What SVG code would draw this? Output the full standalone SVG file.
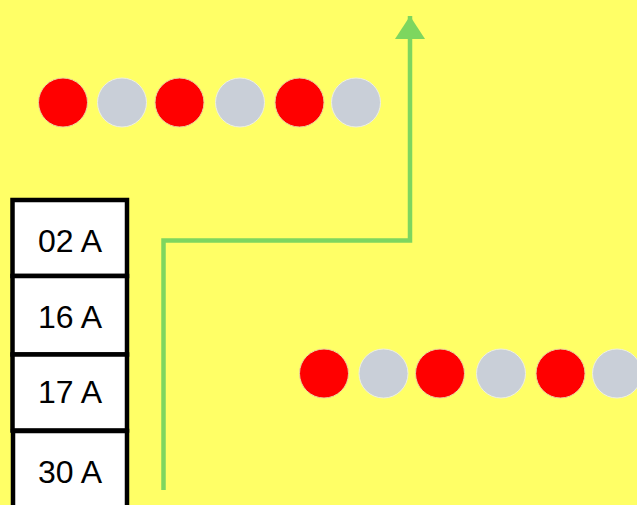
<svg xmlns="http://www.w3.org/2000/svg" width="637" height="505" viewBox="0 0 637 505">
<defs>
<style>
.red{fill:#ff0000;stroke:#e8d8a0;stroke-width:1}
.gray{fill:#c9cfd8;stroke:#eef0e0;stroke-width:1}
.box{fill:#ffffff;stroke:#000000;stroke-width:4.5}
.lbl{font-family:"Liberation Sans",Arial,sans-serif;font-size:32px;fill:#000000;text-anchor:middle}
.wire{fill:none;stroke:#7dd65f;stroke-width:4.5}
</style>
<marker id="ah" markerWidth="24" markerHeight="30" refX="23" refY="15" orient="auto" markerUnits="userSpaceOnUse" viewBox="0 0 24 30">
<path d="M0,0 L23,15 L0,30 Z" fill="#7dd65f"/>
</marker>
</defs>
<rect width="637" height="505" fill="#ffff66"/>
<g id="dots-top">
<circle class="red" cx="63" cy="102.5" r="24.5"/>
<circle class="gray" cx="122" cy="102.5" r="24.5"/>
<circle class="red" cx="179.5" cy="102.5" r="24.5"/>
<circle class="gray" cx="240" cy="102.5" r="24.5"/>
<circle class="red" cx="299.5" cy="102.5" r="24.5"/>
<circle class="gray" cx="356" cy="102.5" r="24.5"/>
</g>
<g id="dots-bottom">
<circle class="red" cx="324" cy="373.5" r="24.5"/>
<circle class="gray" cx="383.5" cy="373.5" r="24.5"/>
<circle class="red" cx="440" cy="373.5" r="24.5"/>
<circle class="gray" cx="501" cy="373.5" r="24.5"/>
<circle class="red" cx="560.5" cy="373.5" r="24.5"/>
<circle class="gray" cx="617" cy="373.5" r="24.5"/>
</g>
<g id="connectors">
<path class="wire" d="M163.5,490 L163.5,240.5 L410,240.5 L410,16" marker-end="url(#ah)"/>
</g>
<g id="node-02A">
<rect class="box" x="12.5" y="200" width="114.5" height="76"/>
<text class="lbl" x="70" y="252">02 A</text>
</g>
<g id="node-16A">
<rect class="box" x="12.5" y="276" width="114.5" height="78.5"/>
<text class="lbl" x="70" y="327.5">16 A</text>
</g>
<g id="node-17A">
<rect class="box" x="12.5" y="354.5" width="114.5" height="76"/>
<text class="lbl" x="70" y="403">17 A</text>
</g>
<g id="node-30A">
<rect class="box" x="13" y="431" width="114" height="90"/>
<text class="lbl" x="70" y="483">30 A</text>
</g>
</svg>
